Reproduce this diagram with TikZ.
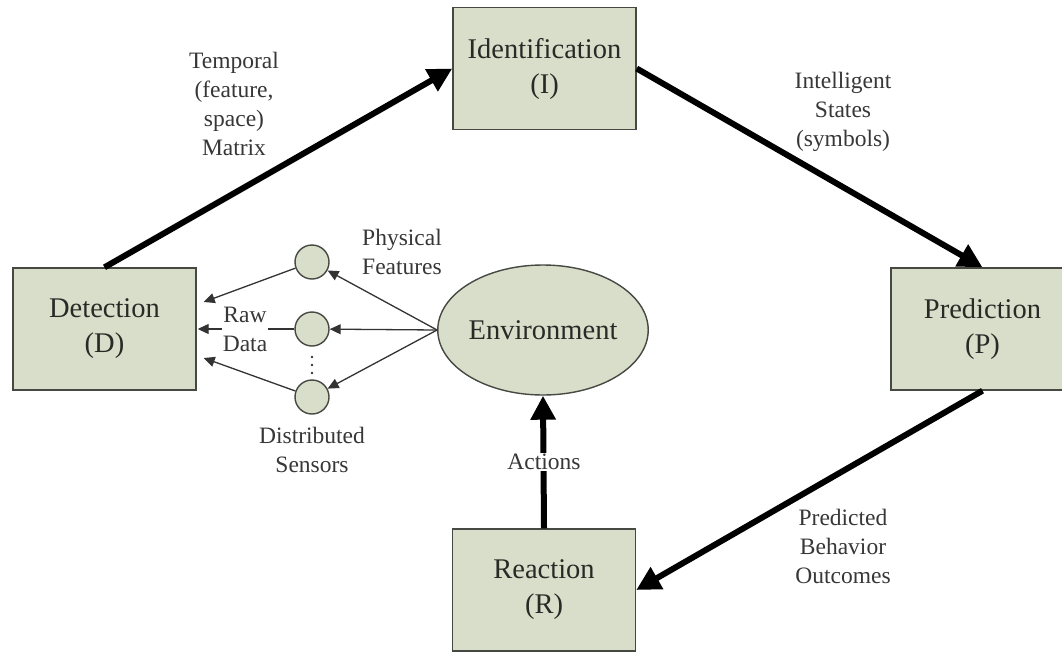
\documentclass[tikz,border=0pt]{standalone}
\usepackage{fontspec}
\setmainfont{Liberation Serif}
\usetikzlibrary{shapes.geometric,arrows.meta}
\definecolor{boxfill}{RGB}{216,222,202}
\definecolor{boxline}{RGB}{70,72,66}
\definecolor{txt}{RGB}{40,42,38}
\definecolor{lbl}{RGB}{55,55,55}
\begin{document}
\begin{tikzpicture}[x=1pt,y=-1pt,
  stagebox/.style={draw=boxline, line width=1.4pt, fill=boxfill, minimum width=183pt, minimum height=122pt, align=center, text=txt, font=\fontsize{28.5}{35}\selectfont, inner sep=0pt},
  envnode/.style={ellipse, draw=boxline, line width=1.4pt, fill=boxfill, minimum width=200pt, minimum height=130pt, text=txt, font=\fontsize{28.5}{35}\selectfont, inner sep=0pt},
  sensor/.style={circle, draw=boxline, line width=1.4pt, fill=boxfill, minimum size=34pt, inner sep=0pt},
  lbltext/.style={align=center, text=lbl, font=\fontsize{23.5}{29}\selectfont, inner sep=1pt},
  bigarrow/.style={line width=6pt, -{Triangle[length=24pt,width=24pt]}},
  smallarrow/.style={line width=1.3pt, draw=black!80, -{Triangle[length=11pt,width=10pt]}},
]
\useasboundingbox (0,0) rectangle (1062,651);
\fill[white] (0,0) rectangle (1062,651);

% stages
\node[stagebox] (D) at (104.5,329) {Detection\\(D)};
\node[stagebox] (I) at (544.5,68.5) {Identification\\(I)};
\node[stagebox] (P) at (982.5,329) {Prediction\\(P)};
\node[stagebox] (R) at (544,590) {Reaction\\(R)};
\node[envnode] (E) at (543,330) {Environment};

% sensors
\node[sensor] (s1) at (312,262) {};
\node[sensor] (s2) at (312,329) {};
\node[sensor] (s3) at (312,397) {};
\fill[lbl] (312,357) circle (1.3pt) (312,365) circle (1.3pt) (312,373) circle (1.3pt);

% thick cycle arrows
\draw[bigarrow] (D.north) -- (I.west);
\draw[bigarrow] (I.east) -- (P.north);
\draw[bigarrow] (P.south) -- (R.east);
\draw[bigarrow] (R.north) -- (E.south);

% environment to sensors
\draw[smallarrow] (E.west) -- (s1);
\draw[smallarrow] (E.west) -- (s2);
\draw[smallarrow] (E.west) -- (s3);

% sensors to detection
\draw[smallarrow] (s1) -- ([xshift=7pt,yshift=27pt]D.east);
\draw[smallarrow] (s2) -- ([xshift=1pt]D.east);
\draw[smallarrow] (s3) -- ([xshift=7pt,yshift=-29pt]D.east);

% labels
\node[lbltext, fill=white] (raw) at (245,329) {Raw\\Data};
\node[lbltext, fill=white] (act) at (544,462) {Actions};
\node[lbltext] (phys) at (402,252) {Physical\\Features};
\node[lbltext] (dist) at (312,450) {Distributed\\Sensors};
\node[lbltext] (temp) at (234,103.5) {Temporal\\(feature,\\space)\\Matrix};
\node[lbltext] (intel) at (843,112) {Intelligent\\States\\(symbols)};
\node[lbltext] (pred) at (843,546) {Predicted\\Behavior\\Outcomes};
\end{tikzpicture}
\end{document}
